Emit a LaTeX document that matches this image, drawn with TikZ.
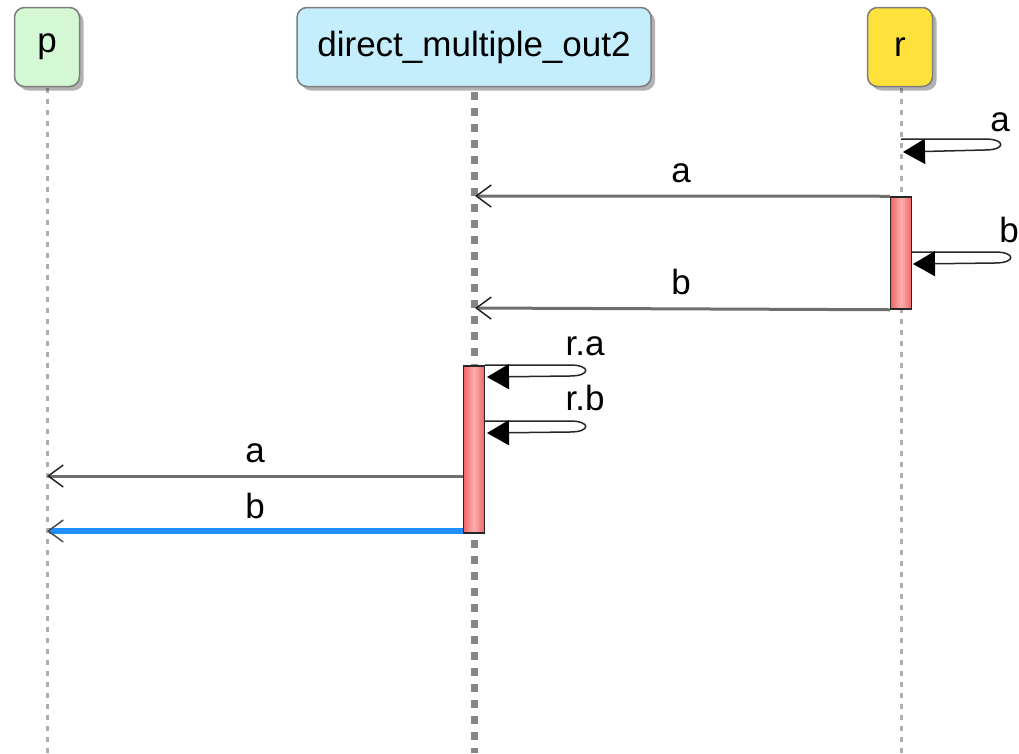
\documentclass[tikz,border=0pt]{standalone}
\usepackage{fontspec}
\setmainfont{Liberation Sans}
\usetikzlibrary{arrows.meta,shadows}
\definecolor{pgreen}{RGB}{212,248,212}
\definecolor{dblue}{RGB}{197,238,253}
\definecolor{ryellow}{RGB}{254,225,58}
\definecolor{bordergray}{RGB}{125,125,125}
\definecolor{msggray}{RGB}{110,110,110}
\definecolor{lifegray}{RGB}{175,175,175}
\definecolor{lifedark}{RGB}{135,135,135}
\definecolor{actred}{RGB}{238,100,100}
\definecolor{actlight}{RGB}{255,175,175}
\definecolor{msgblue}{RGB}{30,144,255}
\tikzset{
  part/.style={draw=bordergray, line width=1.5pt, rounded corners=10pt, minimum height=79pt,
    drop shadow={shadow xshift=4pt, shadow yshift=-4pt, opacity=0.3, fill=black}},
  life/.style={draw=lifegray, line width=3pt, dash pattern=on 5pt off 6pt},
  lifethick/.style={draw=lifedark, line width=7pt, dash pattern=on 8pt off 8pt},
  act/.style={draw=black!85, line width=1.5pt, left color=actred, right color=actred, middle color=actlight,
    inner sep=0pt, minimum width=21pt},
  msg/.style={draw=msggray, line width=3pt, -{Straight Barb[length=15pt,width=22pt,line width=1.5pt,color=black!85]}},
  msgb/.style={draw=msgblue, line width=5.5pt, -{Straight Barb[length=15pt,width=22pt,line width=1.5pt,color=black!70]}},
  selfmsg/.style={draw=black!85, line width=1.5pt, -{Triangle[length=22pt,width=25pt,color=black]}},
  lbl/.style={anchor=base, inner sep=0pt}
}
\begin{document}
\begin{tikzpicture}[x=1pt, y=-1pt, font=\fontsize{35}{40}\selectfont]
\useasboundingbox (0,0) rectangle (1019,753);
% lifelines
\coordinate (pend) at (47,753);
\coordinate (dend) at (474,753);
\coordinate (rend) at (901,753);
\draw[life] (47,88) -- (pend);
\draw[lifethick] (474,92) -- (dend);
\draw[life] (901,88) -- (rend);
% participants
\node[part, fill=pgreen, minimum width=65pt] (p) at (47,47) {p};
\node[part, fill=dblue, minimum width=354pt] (d) at (474,47) {direct\_multiple\_out2};
\node[part, fill=ryellow, minimum width=65pt] (r) at (900,47) {r};
% activations
\node[act, minimum height=112pt] (ra) at (901,253) {};
\node[act, minimum height=167pt] (da) at (474,449.5) {};
% self message a on r
\coordinate (rs1) at (901,139);
\coordinate (rs1e) at (903,152);
\draw[selfmsg] (rs1) -- (985,139) .. controls (1006,139) and (1006,150) .. (985,150) -- (rs1e);
\node[lbl] at (1000,131) {a};
% message a r -> d
\coordinate (dm1) at (475,196);
\draw[msg] (ra.north west) -- (dm1);
\node[lbl] at (681,182) {a};
% self message b on r
\coordinate (rs2) at (911,252);
\coordinate (rs2e) at (913,264);
\draw[selfmsg] (rs2) -- (995,252) .. controls (1016,252) and (1016,263) .. (995,263) -- (rs2e);
\node[lbl] at (1009,242) {b};
% message b r -> d
\coordinate (dm2) at (475,308);
\draw[msg] (ra.south west) -- (dm2);
\node[lbl] at (681,294) {b};
% self r.a on d
\coordinate (ds1) at (485,365);
\coordinate (ds1e) at (487,377);
\draw[selfmsg] (ds1) -- (570,365) .. controls (591,365) and (591,376) .. (570,376) -- (ds1e);
\node[lbl] at (585,355) {r.a};
% self r.b on d
\coordinate (ds2) at (485,421);
\coordinate (ds2e) at (487,433);
\draw[selfmsg] (ds2) -- (570,421) .. controls (591,421) and (591,432) .. (570,432) -- (ds2e);
\node[lbl] at (585,410) {r.b};
% messages d -> p
\coordinate (pm1) at (47,476);
\coordinate (pm2) at (47,531);
\draw[msg] (da.west |- pm1) -- (pm1);
\node[lbl] at (255,462) {a};
\draw[msgb] (da.west |- pm2) -- (pm2);
\node[lbl] at (255,518) {b};
\end{tikzpicture}
\end{document}
